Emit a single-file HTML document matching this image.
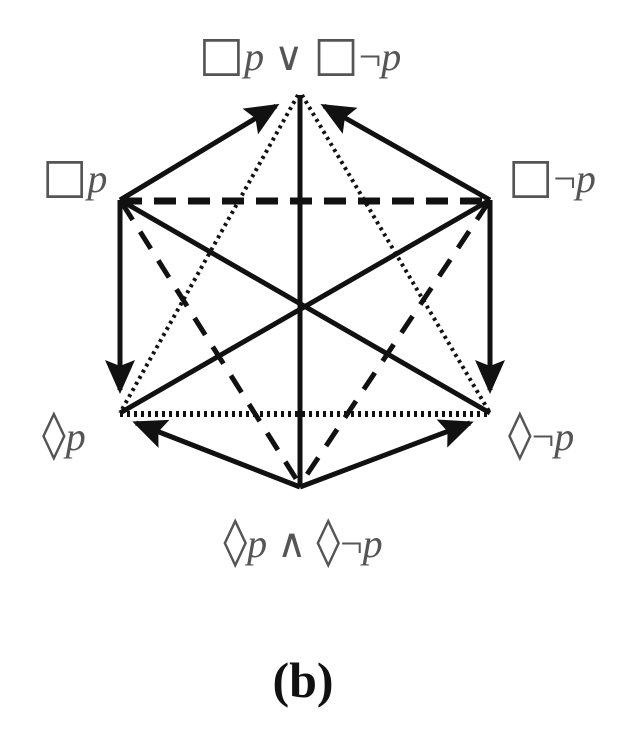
<!DOCTYPE html>
<html><head><style>
body{margin:0;background:#fff;width:632px;height:752px;overflow:hidden}
svg{display:block}
text{font-family:"Liberation Serif","DejaVu Serif",serif;fill:#555}
.s{font-size:48px;font-family:"DejaVu Sans",sans-serif;font-weight:normal}
.o{font-family:"DejaVu Serif",serif;font-weight:lighter}
</style></head><body>
<svg width="632" height="752" viewBox="0 0 632 752">
<defs>
<marker id="b" markerWidth="34" markerHeight="30" refX="30" refY="15" orient="auto" markerUnits="userSpaceOnUse" viewBox="0 0 34 30">
<path d="M0,0 L34,15 L0,30 L6,15 Z" fill="#111"/></marker>
</defs>
<g stroke="#111" fill="none">
<line x1="300" y1="95" x2="300" y2="487" stroke-width="5"/>
<line x1="120" y1="200" x2="490" y2="413" stroke-width="5"/>
<line x1="490" y1="200" x2="120" y2="413" stroke-width="5"/>
<line x1="120" y1="201" x2="490" y2="201" stroke-width="7" stroke-dasharray="22,12"/>
<line x1="122" y1="203" x2="300" y2="485" stroke-width="5" stroke-dasharray="20,14"/>
<line x1="488" y1="203" x2="300" y2="485" stroke-width="5" stroke-dasharray="20,14"/>
<line x1="298" y1="95" x2="120" y2="413" stroke-width="4" stroke-dasharray="3,4"/>
<line x1="302" y1="95" x2="490" y2="413" stroke-width="4" stroke-dasharray="3,4"/>
<line x1="120" y1="414" x2="490" y2="414" stroke-width="6" stroke-dasharray="3,4"/>
<line x1="120" y1="200" x2="276" y2="106" stroke-width="5" marker-end="url(#b)"/>
<line x1="490" y1="200" x2="324" y2="106" stroke-width="5" marker-end="url(#b)"/>
<line x1="120" y1="200" x2="120" y2="390" stroke-width="5" marker-end="url(#b)"/>
<line x1="490" y1="200" x2="490" y2="390" stroke-width="5" marker-end="url(#b)"/>
<line x1="300" y1="487" x2="136" y2="423" stroke-width="5" marker-end="url(#b)"/>
<line x1="300" y1="487" x2="470" y2="423" stroke-width="5" marker-end="url(#b)"/>
</g>
<g font-size="40">
<text x="300" y="70" text-anchor="middle"><tspan class="s">□</tspan><tspan font-style="italic">p</tspan> <tspan class="o">∨</tspan> <tspan class="s">□</tspan>¬<tspan font-style="italic">p</tspan></text>
<text x="42" y="192"><tspan class="s">□</tspan><tspan font-style="italic">p</tspan></text>
<text x="508" y="192"><tspan class="s">□</tspan>¬<tspan font-style="italic">p</tspan></text>
<text x="42" y="450"><tspan class="s">◊</tspan><tspan font-style="italic">p</tspan></text>
<text x="508" y="450"><tspan class="s">◊</tspan>¬<tspan font-style="italic">p</tspan></text>
<text x="303" y="557" text-anchor="middle"><tspan class="s">◊</tspan><tspan font-style="italic">p</tspan> <tspan class="o">∧</tspan> <tspan class="s">◊</tspan>¬<tspan font-style="italic">p</tspan></text>
</g>
<text x="303" y="697" font-size="50" font-weight="bold" text-anchor="middle" style="fill:#111">(b)</text>
</svg>
</body></html>
